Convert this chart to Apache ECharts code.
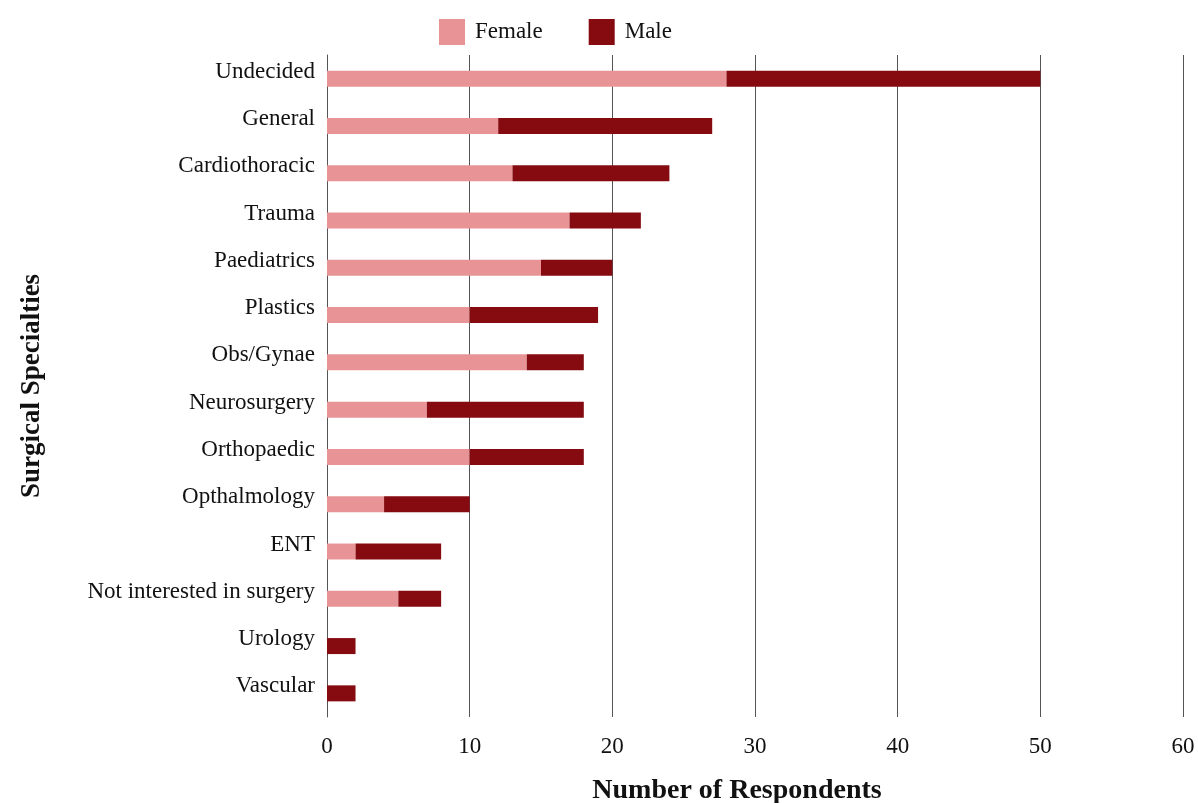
<!DOCTYPE html>
<html>
<head>
<meta charset="utf-8">
<script src="https://cdn.jsdelivr.net/npm/echarts@6/dist/echarts.min.js"></script>
<style>
  html, body { margin: 0; padding: 0; background: #fff; }
  #chart { width: 1198px; height: 803px; }
</style>
</head>
<body>
<div id="chart"></div>
<script>
const specialties = ['Undecided', 'General', 'Cardiothoracic', 'Trauma', 'Paediatrics', 'Plastics',
  'Obs/Gynae', 'Neurosurgery', 'Orthopaedic', 'Opthalmology', 'ENT', 'Not interested in surgery',
  'Urology', 'Vascular']
const female = [28, 12, 13, 17, 15, 10, 14, 7, 10, 4, 2, 5, 0, 0]
const male = [22, 15, 11, 5, 5, 9, 4, 11, 8, 6, 6, 3, 2, 2]

const font = 'Liberation Serif'
const chart = echarts.init(document.getElementById('chart'))

chart.setOption({
  textStyle: { fontFamily: font },
  legend: {
    top: 14,
    left: 434,
    itemWidth: 26,
    itemHeight: 26,
    itemGap: 46,
    icon: 'rect',
    textStyle: { fontFamily: font, fontSize: 23, color: '#111', padding: [0, 0, 0, 5] },
    data: ['Female', 'Male']
  },
  grid: { left: 327, right: 15, top: 55, bottom: 86, outerBoundsMode: 'none' },
  xAxis: {
    type: 'value',
    min: 0,
    max: 60,
    interval: 10,
    name: 'Number of Respondents',
    nameLocation: 'middle',
    nameGap: 60,
    nameTextStyle: { fontFamily: font, fontSize: 28, fontWeight: 'bold', color: '#111', padding: [0, 36, 0, 0] },
    axisLine: { show: false },
    axisTick: { show: false },
    axisLabel: { fontFamily: font, fontSize: 23, color: '#111', margin: 18 },
    splitLine: { show: true, lineStyle: { color: '#555', width: 1 } }
  },
  yAxis: {
    type: 'category',
    inverse: true,
    data: specialties,
    name: 'Surgical Specialties',
    nameLocation: 'middle',
    nameGap: 281,
    nameTextStyle: { fontFamily: font, fontSize: 27, fontWeight: 'bold', color: '#111' },
    axisLine: { show: true, lineStyle: { color: '#555', width: 1 } },
    axisTick: { show: false },
    axisLabel: {
      fontFamily: font, fontSize: 23, color: '#111', margin: 12,
      verticalAlign: 'bottom', lineHeight: 14
    }
  },
  series: [
    {
      name: 'Female',
      type: 'bar',
      stack: 'total',
      barWidth: 16,
      itemStyle: { color: '#E89497' },
      data: female
    },
    {
      name: 'Male',
      type: 'bar',
      stack: 'total',
      barWidth: 16,
      itemStyle: { color: '#850B10' },
      data: male
    }
  ]
})
</script>
</body>
</html>
